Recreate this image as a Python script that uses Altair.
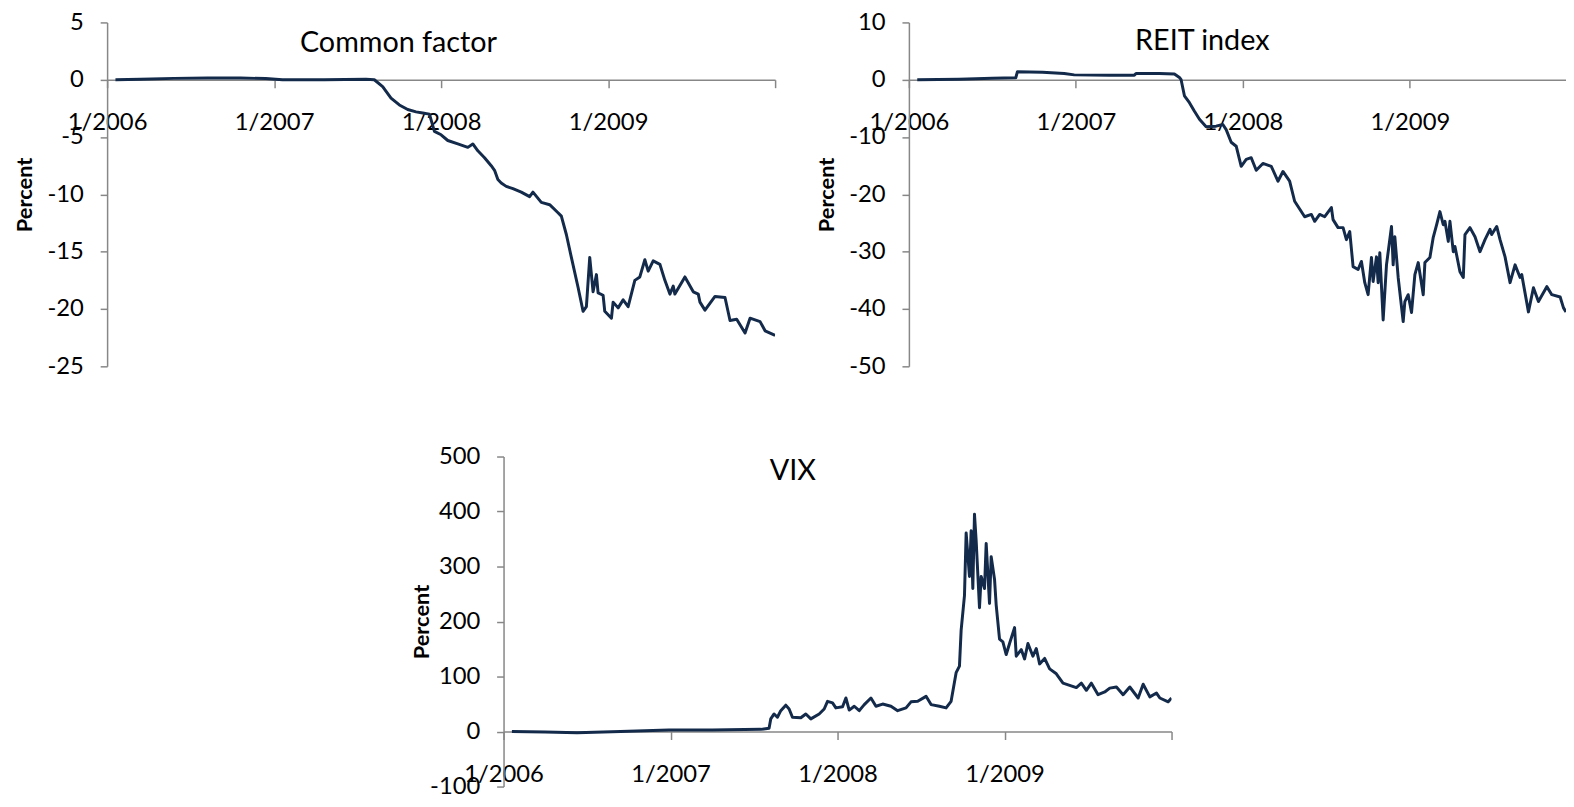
import altair as alt
import pandas as pd

# ---------------- data ----------------
cf_year = [2006.05, 2006.20, 2006.40, 2006.60, 2006.80, 2006.95, 2007.05, 2007.30, 2007.55, 2007.60,
           2007.65, 2007.70, 2007.75, 2007.80, 2007.85, 2007.89, 2007.93, 2007.96, 2008.00, 2008.04,
           2008.10, 2008.16, 2008.19, 2008.22, 2008.26, 2008.30, 2008.32, 2008.34, 2008.36, 2008.39,
           2008.43, 2008.48, 2008.53, 2008.55, 2008.60, 2008.65, 2008.70, 2008.72, 2008.75, 2008.78,
           2008.82, 2008.85, 2008.87, 2008.89, 2008.91, 2008.93, 2008.94, 2008.97, 2008.98, 2009.02,
           2009.03, 2009.06, 2009.09, 2009.12, 2009.16, 2009.19, 2009.22, 2009.24, 2009.27, 2009.31,
           2009.34, 2009.37, 2009.39, 2009.40, 2009.46, 2009.51, 2009.54, 2009.55, 2009.58, 2009.64,
           2009.70, 2009.73, 2009.77, 2009.82, 2009.85, 2009.91, 2009.94, 2010.00]
cf_val = [0.0, 0.05, 0.12, 0.15, 0.15, 0.1, 0.0, 0.0, 0.05, 0.0,
          -0.6, -1.6, -2.2, -2.6, -2.8, -2.9, -3.0, -4.5, -4.8, -5.3,
          -5.6, -5.9, -5.6, -6.2, -6.8, -7.5, -7.9, -8.7, -9.0, -9.3,
          -9.5, -9.8, -10.2, -9.8, -10.7, -10.9, -11.6, -11.9, -13.5, -15.5,
          -18.1, -20.2, -19.8, -15.5, -18.5, -17.0, -18.6, -18.8, -20.2, -20.8,
          -19.4, -19.9, -19.2, -19.8, -17.5, -17.2, -15.7, -16.7, -15.8, -16.1,
          -17.5, -18.7, -18.0, -18.7, -17.2, -18.5, -18.7, -19.4, -20.1, -18.9,
          -19.0, -21.0, -20.9, -22.1, -20.8, -21.1, -21.9, -22.3]

reit_year = [2006.05, 2006.30, 2006.50, 2006.64, 2006.65, 2006.80, 2006.93, 2006.99, 2007.20, 2007.35,
             2007.36, 2007.50, 2007.59, 2007.62, 2007.63, 2007.65, 2007.68, 2007.71, 2007.74, 2007.78,
             2007.84, 2007.88, 2007.90, 2007.93, 2007.96, 2007.99, 2008.02, 2008.05, 2008.08, 2008.12,
             2008.17, 2008.21, 2008.24, 2008.28, 2008.31, 2008.37, 2008.41, 2008.43, 2008.46, 2008.49,
             2008.53, 2008.54, 2008.57, 2008.60, 2008.62, 2008.64, 2008.66, 2008.69, 2008.71, 2008.73,
             2008.75, 2008.77, 2008.78, 2008.80, 2008.81, 2008.82, 2008.84, 2008.86, 2008.89, 2008.90,
             2008.91, 2008.93, 2008.96, 2008.97, 2008.99, 2009.01, 2009.03, 2009.05, 2009.08, 2009.09,
             2009.12, 2009.14, 2009.16, 2009.18, 2009.20, 2009.21, 2009.23, 2009.24, 2009.26, 2009.27,
             2009.30, 2009.32, 2009.33, 2009.36, 2009.39, 2009.42, 2009.45, 2009.48, 2009.49, 2009.52,
             2009.54, 2009.57, 2009.60, 2009.63, 2009.66, 2009.67, 2009.71, 2009.74, 2009.77, 2009.82,
             2009.85, 2009.90, 2009.92, 2009.935]
reit_val = [0.0, 0.1, 0.25, 0.35, 1.4, 1.3, 1.1, 0.85, 0.8, 0.8,
            1.1, 1.1, 1.0, 0.4, 0.0, -2.8, -4.0, -5.5, -6.9, -8.2,
            -8.1, -7.8, -8.7, -10.9, -11.6, -15.1, -13.9, -13.6, -15.8, -14.6,
            -15.1, -17.7, -16.0, -17.7, -21.2, -23.9, -23.5, -24.7, -23.5, -23.9,
            -22.3, -24.4, -25.8, -25.8, -27.9, -26.5, -32.6, -33.1, -31.7, -35.4,
            -37.5, -31.0, -35.2, -30.9, -35.4, -30.2, -41.9, -32.3, -25.6, -32.3,
            -27.4, -34.5, -42.2, -38.7, -37.5, -40.6, -34.0, -31.9, -37.5, -31.9,
            -31.0, -27.5, -25.3, -23.0, -25.3, -24.7, -28.2, -24.7, -30.0, -29.1,
            -33.5, -34.5, -27.0, -25.8, -27.4, -30.0, -27.9, -26.1, -27.0, -25.6,
            -27.9, -30.9, -35.4, -32.3, -34.5, -34.0, -40.5, -36.3, -38.7, -36.1,
            -37.5, -37.9, -39.8, -40.5]

vix_year = [2006.05, 2006.25, 2006.44, 2006.70, 2006.99, 2007.25, 2007.54, 2007.59, 2007.60, 2007.62,
            2007.64, 2007.66, 2007.69, 2007.71, 2007.73, 2007.78, 2007.81, 2007.84, 2007.89, 2007.92,
            2007.94, 2007.97, 2007.99, 2008.03, 2008.05, 2008.07, 2008.10, 2008.13, 2008.16, 2008.20,
            2008.23, 2008.27, 2008.32, 2008.36, 2008.41, 2008.44, 2008.48, 2008.53, 2008.56, 2008.61,
            2008.65, 2008.68, 2008.71, 2008.73, 2008.74, 2008.76, 2008.77, 2008.79, 2008.80, 2008.81,
            2008.82, 2008.83, 2008.85, 2008.86, 2008.88, 2008.89, 2008.91, 2008.92, 2008.94, 2008.95,
            2008.97, 2008.99, 2009.01, 2009.03, 2009.06, 2009.07, 2009.10, 2009.12, 2009.14, 2009.17,
            2009.19, 2009.21, 2009.24, 2009.27, 2009.31, 2009.35, 2009.39, 2009.43, 2009.46, 2009.49,
            2009.52, 2009.56, 2009.60, 2009.63, 2009.67, 2009.71, 2009.75, 2009.80, 2009.83, 2009.87,
            2009.91, 2009.93, 2009.98, 2010.00]
vix_val = [0, -1, -2, 0, 3, 3, 4, 6, 23, 32,
           26, 38, 48, 41, 26, 25, 32, 23, 32, 41,
           55, 52, 43, 45, 61, 39, 46, 38, 49, 61,
           46, 50, 46, 38, 43, 54, 55, 64, 49, 46,
           43, 55, 107, 119, 184, 247, 361, 282, 365, 260,
           395, 347, 225, 282, 260, 342, 233, 318, 277, 230,
           168, 163, 140, 160, 189, 137, 149, 132, 160, 137,
           151, 123, 133, 114, 105, 88, 84, 80, 88, 75,
           88, 67, 72, 79, 81, 67, 81, 61, 86, 63,
           70, 61, 54, 61]

titles = ["Common factor", "REIT index", "VIX"]
x_ticks_full = [2006, 2007, 2008, 2009, 2010]
x_ticks_cut = [2006, 2007, 2008, 2009]
cf_ticks = [-25, -20, -15, -10, -5, 0, 5]
reit_ticks = [-50, -40, -30, -20, -10, 0, 10]
vix_ticks = [-100, 0, 100, 200, 300, 400, 500]

FONT = "Lato"
LINE = "#132a4b"
AXC = "#878787"


def panel(years, vals, title, ydom, yticks, xdom, xticks, w, h, tx, ty):
    df = pd.DataFrame({"year": years, "value": vals})
    zero_from_bottom = h * (-ydom[0]) / (ydom[1] - ydom[0])
    xaxis = alt.Axis(values=xticks, offset=-zero_from_bottom, tickSize=8, labelPadding=35,
                     labelBaseline="middle",
                     labelExpr="datum.value < 2010 ? '1/' + datum.value : ''",
                     labelFlush=False, labelOverlap=False, grid=False, title=None,
                     labelFont=FONT, labelFontSize=24, labelColor="black",
                     domainColor=AXC, tickColor=AXC, domainWidth=1.5, tickWidth=1.5)
    yaxis = alt.Axis(values=yticks, tickSize=7, labelPadding=17, grid=False,
                     labelExpr="'' + datum.value", labelOverlap=False, labelFlush=False,
                     labelFont=FONT, labelFontSize=24, labelColor="black",
                     domainColor=AXC, tickColor=AXC, domainWidth=1.5, tickWidth=1.5,
                     title="Percent", titleFont=FONT, titleFontSize=22, titleFontWeight="bold",
                     titleColor="black", titleAngle=270, titleX=-83, titleY=h / 2,
                     titleBaseline="middle", titleAlign="center")
    line = alt.Chart(df).mark_line(color=LINE, strokeWidth=3, strokeJoin="round", clip=True).encode(
        x=alt.X("year:Q", scale=alt.Scale(domain=xdom, nice=False, zero=False), axis=xaxis),
        y=alt.Y("value:Q", scale=alt.Scale(domain=ydom, nice=False, zero=False), axis=yaxis),
    )
    txt = alt.Chart(pd.DataFrame({"t": [title]})).mark_text(
        font=FONT, fontSize=29, color="black", align="center", baseline="middle"
    ).encode(text="t:N", x=alt.value(tx), y=alt.value(ty))
    return alt.layer(line, txt).properties(width=w, height=h)


p1 = panel(cf_year, cf_val, titles[0], [-25, 5], cf_ticks, [2006, 2010], x_ticks_full, 674, 347, 294, 21)
p2 = panel(reit_year, reit_val, titles[1], [-50, 10], reit_ticks, [2006, 2009.935], x_ticks_cut, 663, 347, 296, 19)
p3 = panel(vix_year, vix_val, titles[2], [-100, 500], vix_ticks, [2006, 2010], x_ticks_full, 674, 333, 292, 15)

spacer = alt.Chart(pd.DataFrame({"v": [0]})).mark_point(opacity=0).encode(
    x=alt.X("v:Q", axis=None), y=alt.Y("v:Q", axis=None)
).properties(width=306, height=10)

chart = alt.vconcat(
    alt.hconcat(p1, p2, spacing=40),
    alt.hconcat(spacer, p3, spacing=0),
    spacing=67,
).properties(
    padding={"left": 6, "top": -1, "right": 0, "bottom": -3}
).configure_view(stroke=None)

chart.save("out.html", embed_options={"renderer": "svg", "actions": False})
